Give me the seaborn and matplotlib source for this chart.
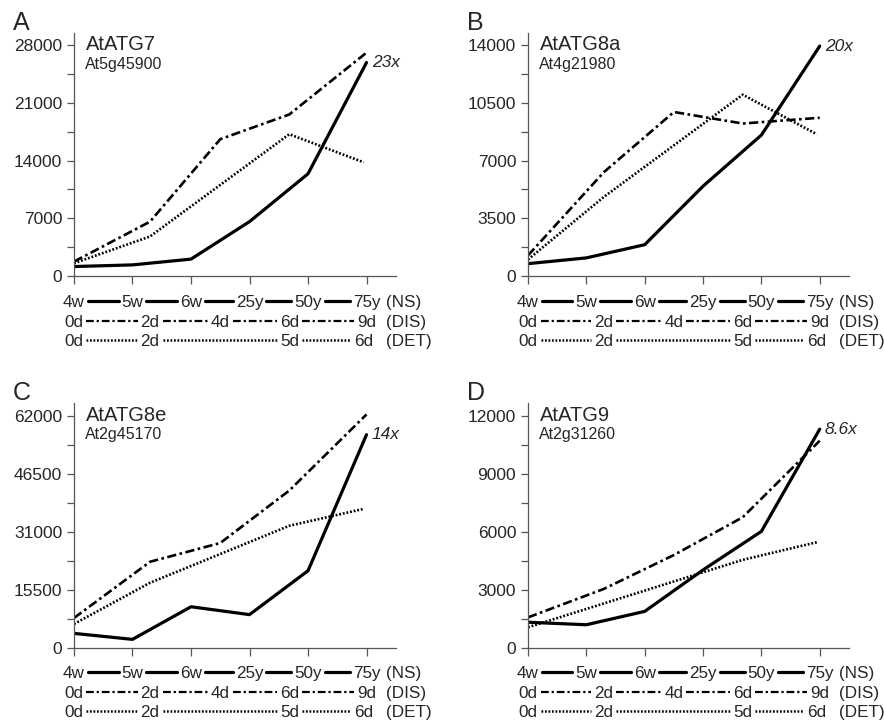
import matplotlib
matplotlib.use("Agg")
import matplotlib.pyplot as plt
import seaborn as sns
import numpy as np
import pandas as pd
from matplotlib import transforms
from matplotlib.lines import Line2D
from matplotlib.ticker import MultipleLocator

# Positions of the time points on the shared x axis
NS_X = [0, 1, 2, 3, 4, 5]
DIS_X = [0, 1.3, 2.5, 3.68, 5]
DET_X = [0, 1.3, 3.68, 4.95]
NS_LABELS = ["4w", "5w", "6w", "25y", "50y", "75y"]
DIS_LABELS = ["0d", "2d", "4d", "6d", "9d"]
DET_LABELS = ["0d", "2d", "5d", "6d"]

PANELS = ["A", "B", "C", "D"]
GENES = ["AtATG7", "AtATG8a", "AtATG8e", "AtATG9"]
LOCI = ["At5g45900", "At4g21980", "At2g45170", "At2g31260"]
FOLD = ["23x", "20x", "14x", "8.6x"]
YSTEP = [7000, 3500, 15500, 3000]

# Expression values
NS_A = [1150, 1350, 2050, 6600, 12400, 25900]
DIS_A = [1750, 6600, 16600, 19600, 27100]
DET_A = [1550, 4800, 17200, 13800]

NS_B = [750, 1100, 1900, 5450, 8550, 13950]
DIS_B = [1250, 6300, 9950, 9250, 9600]
DET_B = [1000, 4800, 11000, 8600]

NS_C = [3900, 2300, 11000, 8900, 20600, 56900]
DIS_C = [8000, 23000, 28000, 42000, 62300]
DET_C = [6400, 17400, 32600, 37100]

NS_D = [1330, 1200, 1890, 4030, 6020, 11300]
DIS_D = [1580, 3050, 4800, 6750, 10700]
DET_D = [1070, 2300, 4550, 5460]

NS = [NS_A, NS_B, NS_C, NS_D]
DIS = [DIS_A, DIS_B, DIS_C, DIS_D]
DET = [DET_A, DET_B, DET_C, DET_D]

sns.set_style("ticks")
plt.rcParams['font.family'] = ['Liberation Sans', 'DejaVu Sans']

DASHDOT = (0, (3.5, 1.3, 1, 1.3))
DOTTED = (0, (0.7, 0.7))

fig = plt.figure(figsize=(8.84, 7.22), dpi=100)
positions = [
    [0.0837, 0.6177, 0.364, 0.3366],
    [0.5973, 0.6177, 0.363, 0.3366],
    [0.0837, 0.1025, 0.364, 0.339],
    [0.5973, 0.1025, 0.363, 0.339],
]

row_texts = []
for i in range(4):
    ax = fig.add_axes(positions[i])
    sns.lineplot(x=NS_X, y=NS[i], ax=ax, color='black', lw=2.3, sort=False)
    sns.lineplot(x=DIS_X, y=DIS[i], ax=ax, color='black', lw=1.9, linestyle=DASHDOT, sort=False)
    sns.lineplot(x=DET_X, y=DET[i], ax=ax, color='black', lw=1.9, linestyle=DOTTED, sort=False)

    ymax = YSTEP[i] * 4
    ax.set_xlim(0, 5.5)
    ax.set_ylim(0, ymax * 1.053)
    ax.set_xticks(NS_X)
    ax.set_xticklabels([])
    ax.yaxis.set_minor_locator(MultipleLocator(YSTEP[i] / 2))
    ax.set_yticks(np.arange(0, ymax + 1, YSTEP[i]))
    ax.set_yticklabels([str(int(v)) for v in np.arange(0, ymax + 1, YSTEP[i])])
    ax.tick_params(axis='y', which='both', length=5, width=0.9, color='#555555',
                   labelsize=12.5, pad=3.5)
    ax.tick_params(axis='x', length=6, width=0.9, color='#555555')
    sns.despine(ax=ax)
    for s in ['left', 'bottom']:
        ax.spines[s].set_color('#555555')
        ax.spines[s].set_linewidth(0.9)

    ax.text(0.037, 0.928, GENES[i], transform=ax.transAxes, fontsize=14.5, va='baseline')
    ax.text(0.035, 0.853, LOCI[i], transform=ax.transAxes, fontsize=11.5, va='baseline')
    ax.text(5.09, NS[i][-1], FOLD[i], fontsize=12.5, style='italic', va='center', ha='left')

    px = positions[i][0] * 884 - 61
    py = (1 - positions[i][1] - positions[i][3]) * 722 - 3
    fig.text(px / 884, 1 - py / 722, PANELS[i], fontsize=18, va='baseline', ha='left')

    base = transforms.blended_transform_factory(ax.transData, ax.transAxes)
    rows = [(NS_X, NS_LABELS, "(NS)", 26, '-', 2.3),
            (DIS_X, DIS_LABELS, "(DIS)", 46, DASHDOT, 1.6),
            (DET_X, DET_LABELS, "(DET)", 65, DOTTED, 1.8)]
    for xs, labels, tag, off, ls, lw in rows:
        tr = base + transforms.ScaledTranslation(0, -off / 100, fig.dpi_scale_trans)
        texts = [ax.text(x, 0, lab, transform=tr, ha='center', va='center',
                         fontsize=12.3, clip_on=False) for x, lab in zip(xs, labels)]
        ax.text(5.33, 0, tag, transform=tr, ha='left', va='center', fontsize=12.3, clip_on=False)
        row_texts.append((texts, ls, lw))

# connecting segments between the label texts
fig.canvas.draw()
renderer = fig.canvas.get_renderer()
inv = fig.transFigure.inverted()
for texts, ls, lw in row_texts:
    boxes = [t.get_window_extent(renderer) for t in texts]
    for b1, b2 in zip(boxes[:-1], boxes[1:]):
        y = (b1.y0 + b1.y1) / 2 + 1.5
        (x0, yy), = inv.transform([(b1.x1 + 3, y)])
        (x1, _), = inv.transform([(b2.x0 - 3, y)])
        fig.add_artist(Line2D([x0, x1], [yy, yy], color='black', lw=lw, linestyle=ls))

fig.savefig("out.png", dpi=100)
